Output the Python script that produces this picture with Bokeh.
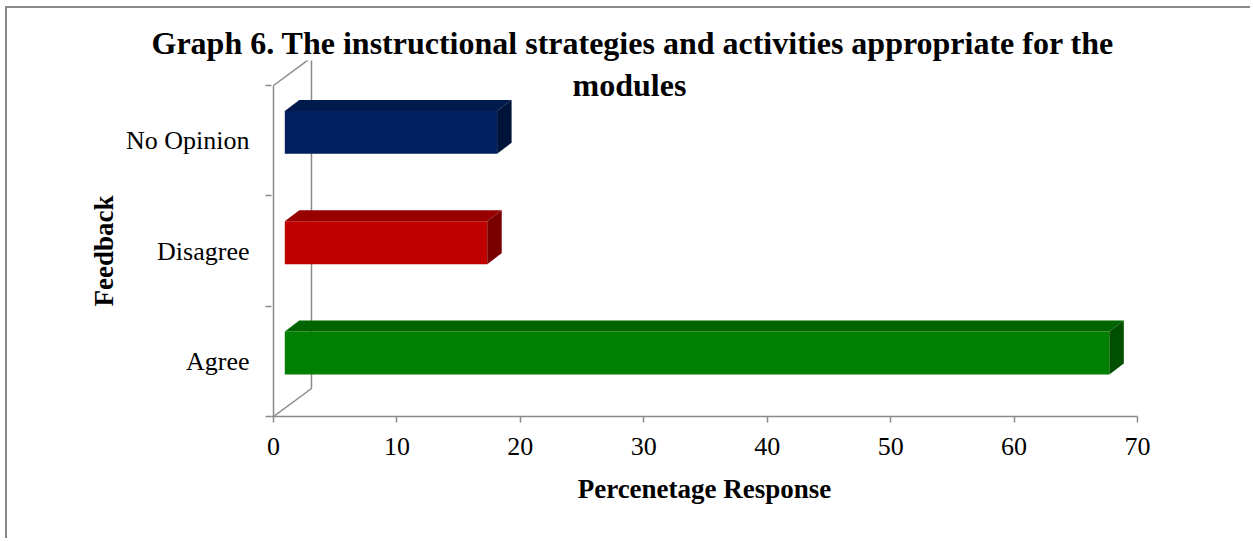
from bokeh.plotting import figure
from bokeh.models import Label, FixedTicker, Range1d, ColumnDataSource, Title, InlineStyleSheet
from bokeh.embed import file_html
from bokeh.resources import INLINE

# ---- data ----
categories = ["Agree", "Disagree", "No Opinion"]
values = [66.8, 16.4, 17.2]
x_ticks = [0, 10, 20, 30, 40, 50, 60, 70]

title_line1 = "Graph 6. The instructional strategies and activities appropriate for the"
title_line2 = "modules"
x_title = "Percenetage Response"
y_title = "Feedback"

# ---- styles ----
front_colors = ["#008000", "#c00000", "#002060"]
top_colors = ["#006400", "#980000", "#001a4d"]
side_colors = ["#005000", "#7a0000", "#00143a"]
GRAY = "#8a8a8a"
SERIF = "Liberation Serif"

W, H = 1250, 538
AX0, AX70 = 273, 1137        # page px of x=0 and x=70
Y_BOT, Y_TOP3 = 416, 85      # page px of y=0 and y=3 (category boundaries)
FL, FR, FT, FB = 271, 1137, 60, 416   # frame edges (page px)

XS = 70.0 / (AX70 - AX0)     # data per px
YS = 3.0 / (Y_BOT - Y_TOP3)

def px2x(px):
    return (px - AX0) * XS

def py2y(py):
    return (Y_BOT - py) * YS

DX = 11.3 * XS     # front face start offset (depth)
DDX = 14.5 * XS    # depth projection x
DDY = 11.0 * YS    # depth projection y
B0 = -0.119        # front face bottom relative to category centre
B1 = 0.270         # front face top relative to category centre

p = figure(width=W, height=H,
           x_range=Range1d(px2x(FL), px2x(FR)), y_range=Range1d(py2y(FB), py2y(FT)),
           output_backend="svg", toolbar_location=None,
           min_border_left=FL, min_border_right=W - FR,
           min_border_top=FT, min_border_bottom=H - FB)
p.outline_line_color = None
p.grid.visible = False
p.background_fill_color = "white"
p.border_fill_color = "white"

# outer border (left & top), as in the reference picture
p.stylesheets = [InlineStyleSheet(css=(
    ":host::after {content:''; position:absolute; left:5px; top:6px; "
    "width:1245px; height:532px; border-left:2px solid #8a8a8a; "
    "border-top:2px solid #8a8a8a; box-sizing:border-box; pointer-events:none;}"))]

# left axis line + 3D wall outline (behind the bars)
p.line([0, 0], [0, 3], line_color=GRAY, line_width=1.5)
p.line([0, px2x(311), px2x(311), 0], [0, py2y(388), py2y(57), 3],
       line_color=GRAY, line_width=1.5)

# bars
centres = [i + 0.5 for i in range(len(categories))]
front = ColumnDataSource(dict(
    left=[DX] * len(values), right=[v + DX for v in values],
    bottom=[c + B0 for c in centres], top=[c + B1 for c in centres],
    color=front_colors, cat=categories, val=values))
p.quad(left="left", right="right", bottom="bottom", top="top", source=front,
       fill_color="color", line_color=None)

top_xs, top_ys, side_xs, side_ys = [], [], [], []
for c, v in zip(centres, values):
    xl, xr = DX, v + DX
    yb, yt = c + B0, c + B1
    top_xs.append([xl, xr, xr + DDX, xl + DDX])
    top_ys.append([yt, yt, yt + DDY, yt + DDY])
    side_xs.append([xr, xr + DDX, xr + DDX, xr])
    side_ys.append([yb, yb + DDY, yt + DDY, yt])
p.patches(top_xs, top_ys, fill_color=top_colors, line_color=None)
p.patches(side_xs, side_ys, fill_color=side_colors, line_color=None)

# axes
p.xaxis.ticker = FixedTicker(ticks=x_ticks)
p.xaxis.major_tick_out = 6
p.xaxis.major_tick_in = 0
p.xaxis.minor_tick_line_color = None
p.xaxis.major_label_standoff = 15
p.xaxis.axis_label = x_title
p.xaxis.axis_label_standoff = 16
p.xaxis.axis_line_color = GRAY

p.yaxis.ticker = FixedTicker(ticks=centres, minor_ticks=[0, 1, 2, 3])
p.yaxis.major_label_overrides = {c: n for c, n in zip(centres, categories)}
p.yaxis.major_tick_out = 0
p.yaxis.major_tick_in = 0
p.yaxis.minor_tick_out = 6
p.yaxis.minor_tick_in = 0
p.yaxis.major_label_standoff = 16
p.yaxis.axis_line_color = None
p.yaxis.minor_tick_line_color = GRAY

for ax in (p.xaxis, p.yaxis):
    ax.axis_line_width = 1.5
    ax.major_tick_line_color = GRAY
    ax.major_tick_line_width = 1.5
    ax.minor_tick_line_width = 1.5
    ax.major_label_text_font = SERIF
    ax.major_label_text_font_size = "26px"
    ax.major_label_text_color = "black"
    ax.axis_label_text_font = SERIF
    ax.axis_label_text_font_size = "27px"
    ax.axis_label_text_font_style = "bold"
    ax.axis_label_text_color = "black"

# y axis title, positioned along the category band
p.add_layout(Title(text=y_title, align="left", offset=Y_BOT - 306,
                   text_font=SERIF, text_font_size="27px", text_font_style="bold",
                   text_color="black", standoff=8), "left")

# chart title: first line as the plot title, second line just below it
p.title.text = title_line1
p.title.align = "left"
p.title.offset = 151 - FL
p.title.standoff = 0
p.title.text_font = SERIF
p.title.text_font_size = "32px"
p.title.text_font_style = "bold"
p.title.text_color = "black"
p.add_layout(Label(x=px2x(629), y=py2y(84), text=title_line2, text_align="center",
                   text_baseline="middle", text_font=SERIF, text_font_style="bold",
                   text_font_size="32px", text_color="black"))

open("out.html", "w").write(file_html(p, INLINE))
